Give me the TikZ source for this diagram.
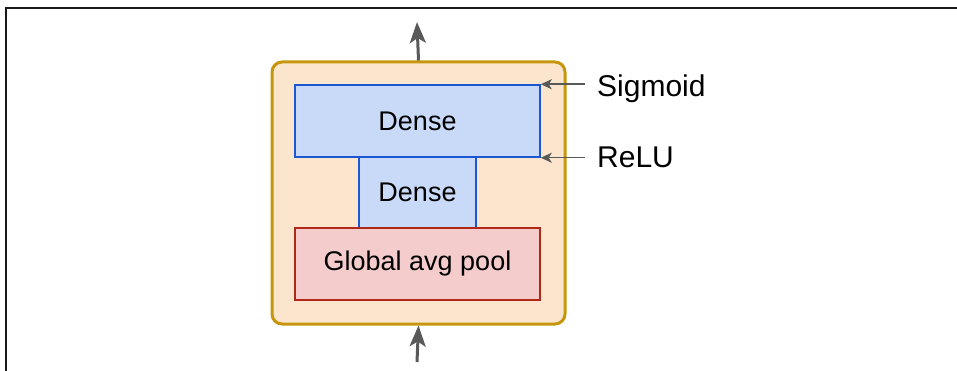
\documentclass[tikz,border=0pt]{standalone}
\usepackage{fontspec}
\setmainfont{Liberation Sans}
\usetikzlibrary{arrows.meta}

\definecolor{blockgold}{RGB}{197,150,14}
\definecolor{blockfill}{RGB}{252,229,205}
\definecolor{densefill}{RGB}{201,218,248}
\definecolor{denseline}{RGB}{26,87,208}
\definecolor{poolfill}{RGB}{244,204,204}
\definecolor{poolline}{RGB}{176,40,26}
\definecolor{arrowgray}{RGB}{89,89,89}

\tikzset{
  layer/.style={draw, line width=1.5pt, inner sep=0pt, font=\fontsize{27}{32}\selectfont},
  dense/.style={layer, fill=densefill, draw=denseline},
  pool/.style={layer, fill=poolfill, draw=poolline},
  flow/.style={draw=arrowgray, line width=3pt, -{Stealth[length=21pt,width=16pt,inset=5pt]}},
  note/.style={draw=arrowgray, line width=1.5pt, -{Stealth[length=11pt,width=10pt,inset=3pt]}},
  label/.style={anchor=base west, inner sep=0pt, font=\fontsize{30}{36}\selectfont}
}

\begin{document}
\begin{tikzpicture}[x=1pt,y=-1pt]
		\useasboundingbox (0,0) rectangle (957,371);

		% frame
		\draw[line width=2pt, black!90] (957,8) -- (6,8) -- (6,371);

		% SE block
		\node[draw=blockgold, fill=blockfill, line width=3pt, rounded corners=10pt,
		      minimum width=293pt, minimum height=262pt] (block) at (418.5,193) {};

		\node[dense, minimum width=245pt, minimum height=72pt] (dense2) at (417.5,121) {Dense};
		\node[dense, minimum width=117pt, minimum height=71pt] (dense1) at (417.5,192.5) {Dense};
		\node[pool, minimum width=245pt, minimum height=72pt] (pool) at (417.5,264) {Global avg pool};

		% activations
		\node[label] (sigmoid) at (597,97) {Sigmoid};
		\node[label] (relu) at (597,168) {ReLU};
		\draw[note, shorten <=12pt] (sigmoid.west |- dense2.north east) -- (dense2.north east);
		\draw[note, shorten <=12pt] (relu.west |- dense2.south east) -- (dense2.south east);

		% input / output
		\coordinate (in) at (417,362);
		\coordinate (out) at (417,22);
		\draw[flow] (in) -- (block.south);
		\draw[flow] (block.north) -- (out);
	\end{tikzpicture}
\end{document}
